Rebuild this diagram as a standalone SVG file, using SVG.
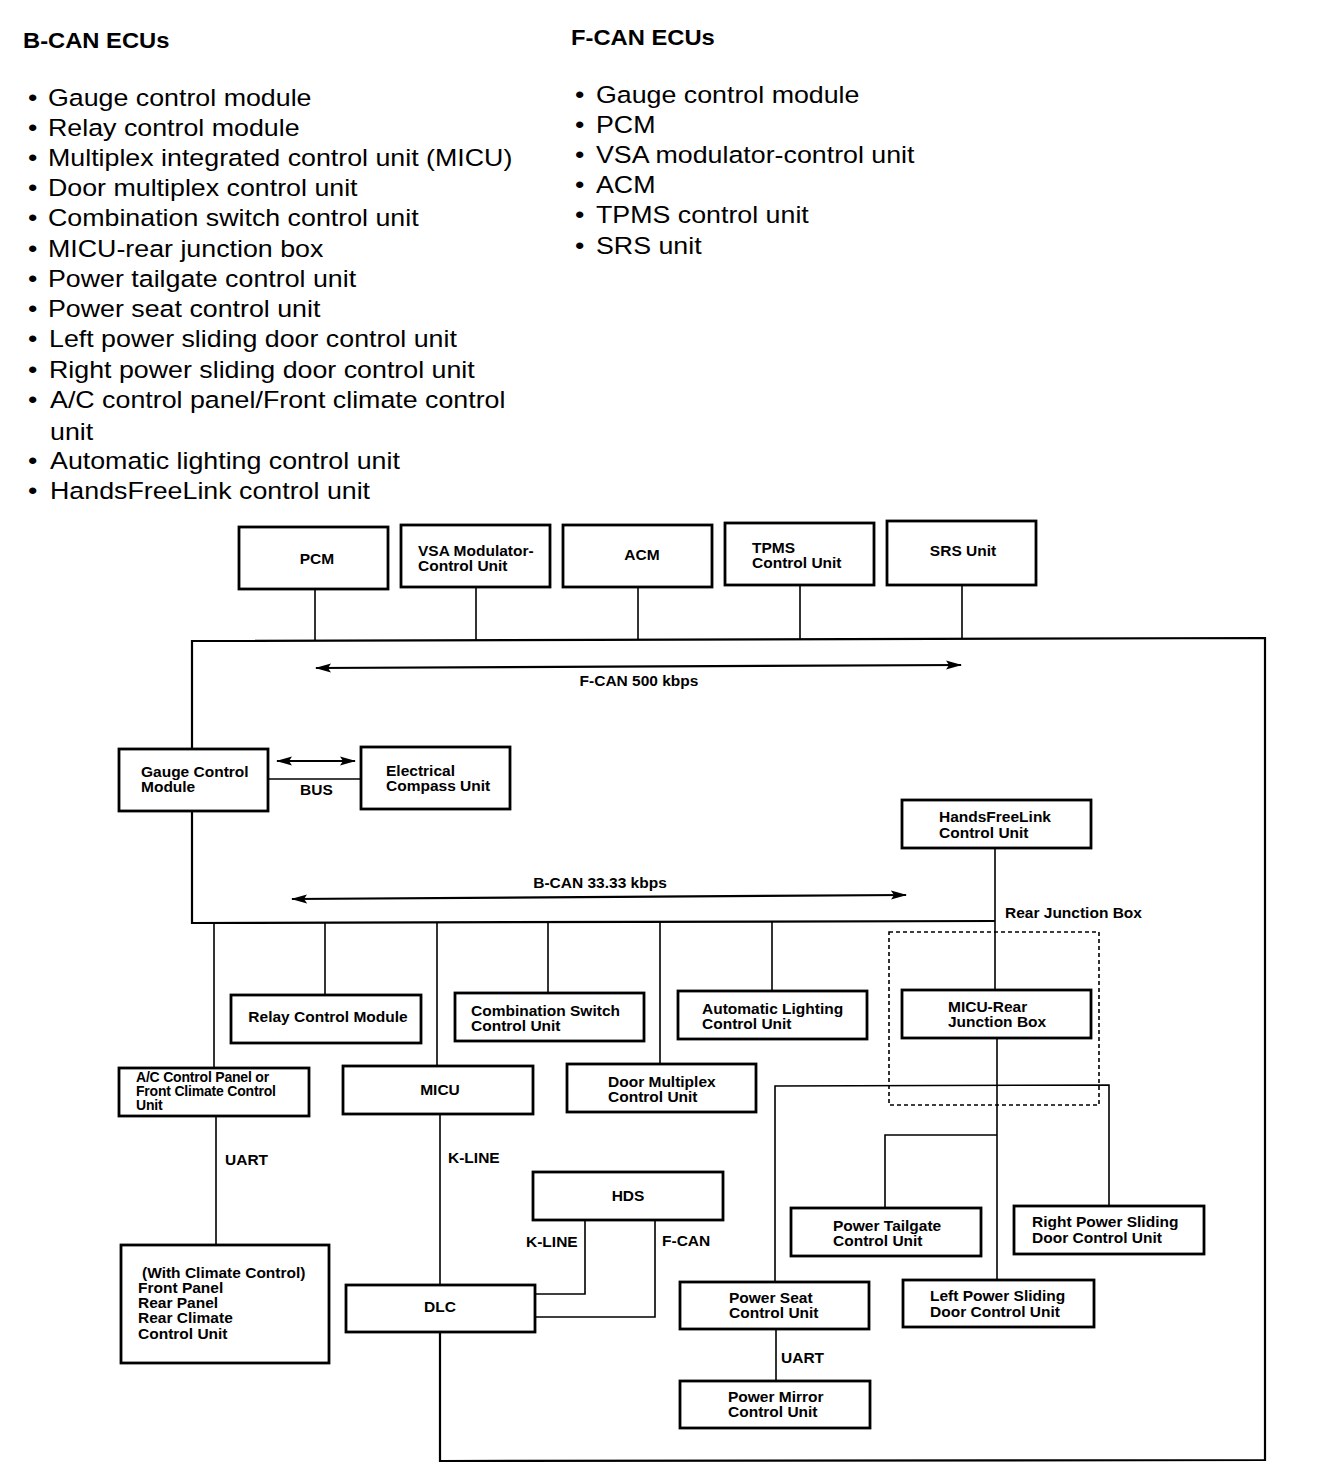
<svg xmlns="http://www.w3.org/2000/svg" width="1344" height="1482" viewBox="0 0 1344 1482">
<style>
.list{font-family:"Liberation Sans",Arial,sans-serif;font-size:23.5px;fill:#000}
.head{font-family:"Liberation Sans",Arial,sans-serif;font-size:22px;font-weight:bold;fill:#000}
.lbl{font-family:"Liberation Sans",Arial,sans-serif;font-size:15.5px;font-weight:bold;fill:#000}
.sm{font-family:"Liberation Sans",Arial,sans-serif;font-size:14px;font-weight:bold;fill:#000;letter-spacing:-0.2px}
.mid{text-anchor:middle}
.box{fill:#fff;stroke:#000;stroke-width:2.8}
.ln{fill:none;stroke:#000;stroke-width:1.6}
.bus{fill:none;stroke:#000;stroke-width:2.2}
.dash{fill:none;stroke:#000;stroke-width:1.6;stroke-dasharray:4 3}
</style>
<defs>
<marker id="ah" viewBox="0 0 16 10" refX="15" refY="5" markerWidth="16" markerHeight="10" markerUnits="userSpaceOnUse" orient="auto-start-reverse">
<path d="M0,0.5 L16,5 L0,9.5 L3,5 Z" fill="#000"/>
</marker>
</defs>
<rect width="1344" height="1482" fill="#fff"/>

<g id="bcan-list">
<text class="head" x="21.3" y="48" transform="scale(1.08,1)">B-CAN ECUs</text>
<g class="list" transform="scale(1.14,1)">
<text x="24.6" y="106">•</text><text x="42.1" y="106">Gauge control module</text>
<text x="24.6" y="136">•</text><text x="42.1" y="136">Relay control module</text>
<text x="24.6" y="166">•</text><text x="42.1" y="166">Multiplex integrated control unit (MICU)</text>
<text x="24.6" y="196">•</text><text x="42.1" y="196">Door multiplex control unit</text>
<text x="24.6" y="226">•</text><text x="42.1" y="226">Combination switch control unit</text>
<text x="24.6" y="257">•</text><text x="42.1" y="257">MICU-rear junction box</text>
<text x="24.6" y="287">•</text><text x="42.1" y="287">Power tailgate control unit</text>
<text x="24.6" y="317">•</text><text x="42.1" y="317">Power seat control unit</text>
<text x="24.6" y="347">•</text><text x="43" y="347">Left power sliding door control unit</text>
<text x="24.6" y="378">•</text><text x="43" y="378">Right power sliding door control unit</text>
<text x="24.6" y="408">•</text><text x="43.9" y="408">A/C control panel/Front climate control</text>
<text x="43.9" y="440">unit</text>
<text x="24.6" y="469">•</text><text x="43.9" y="469">Automatic lighting control unit</text>
<text x="24.6" y="499">•</text><text x="43.9" y="499">HandsFreeLink control unit</text>
</g>
</g>

<g id="fcan-list">
<text class="head" x="528.7" y="45" transform="scale(1.08,1)">F-CAN ECUs</text>
<g class="list" transform="scale(1.14,1)">
<text x="504.4" y="103">•</text><text x="522.8" y="103">Gauge control module</text>
<text x="504.4" y="133">•</text><text x="522.8" y="133">PCM</text>
<text x="504.4" y="163">•</text><text x="522.8" y="163">VSA modulator-control unit</text>
<text x="504.4" y="193">•</text><text x="522.8" y="193">ACM</text>
<text x="504.4" y="223">•</text><text x="522.8" y="223">TPMS control unit</text>
<text x="504.4" y="254">•</text><text x="522.8" y="254">SRS unit</text>
</g>
</g>

<g id="connectors">
<polyline class="bus" points="192,749 192,641 1265,638 1265,1460 440,1461 440,1332"/>
<line class="ln" x1="315" y1="589" x2="315" y2="641"/>
<line class="ln" x1="476" y1="587" x2="476" y2="640"/>
<line class="ln" x1="638" y1="587" x2="638" y2="640"/>
<line class="ln" x1="800" y1="585" x2="800" y2="639"/>
<line class="ln" x1="962" y1="585" x2="962" y2="639"/>
<line class="bus" x1="316" y1="668" x2="961" y2="665" marker-start="url(#ah)" marker-end="url(#ah)"/>
<line class="bus" x1="277" y1="761" x2="355" y2="761" marker-start="url(#ah)" marker-end="url(#ah)"/>
<line class="ln" x1="268" y1="779" x2="361" y2="779"/>
<polyline class="bus" points="192,811 192,923 995,921"/>
<line class="bus" x1="292" y1="899" x2="906" y2="895" marker-start="url(#ah)" marker-end="url(#ah)"/>
<line class="ln" x1="995" y1="848" x2="995" y2="990"/>
<line class="ln" x1="214" y1="923" x2="214" y2="1068"/>
<line class="ln" x1="325" y1="923" x2="325" y2="995"/>
<line class="ln" x1="437" y1="923" x2="437" y2="1066"/>
<line class="ln" x1="548" y1="922" x2="548" y2="993"/>
<line class="ln" x1="660" y1="922" x2="660" y2="1064"/>
<line class="ln" x1="772" y1="922" x2="772" y2="991"/>
<line class="ln" x1="216" y1="1116" x2="216" y2="1245"/>
<line class="ln" x1="440" y1="1114" x2="440" y2="1285"/>
<polyline class="ln" points="585,1220 585,1294 535,1294"/>
<polyline class="ln" points="655,1220 655,1317 535,1317"/>
<line class="ln" x1="997" y1="1038" x2="997" y2="1280"/>
<polyline class="ln" points="775,1282 775,1086 1109,1085 1109,1206"/>
<polyline class="ln" points="885,1208 885,1135 997,1135"/>
<line class="ln" x1="776" y1="1329" x2="776" y2="1381"/>
<rect class="dash" x="889" y="932" width="210" height="173"/>
</g>

<g id="labels">
<text class="lbl mid" x="639" y="686">F-CAN 500 kbps</text>
<text class="lbl" x="300" y="795">BUS</text>
<text class="lbl mid" x="600" y="888">B-CAN 33.33 kbps</text>
<text class="lbl" x="1005" y="918">Rear Junction Box</text>
<text class="lbl" x="225" y="1165">UART</text>
<text class="lbl" x="448" y="1163">K-LINE</text>
<text class="lbl" x="526" y="1247">K-LINE</text>
<text class="lbl" x="662" y="1246">F-CAN</text>
<text class="lbl" x="781" y="1363">UART</text>
</g>

<g id="pcm"><rect class="box" x="239" y="527" width="149" height="62"/><text class="lbl mid" x="317" y="564">PCM</text></g>
<g id="vsa"><rect class="box" x="401" y="525" width="149" height="62"/><text class="lbl" x="418" y="556">VSA Modulator-</text><text class="lbl" x="418" y="571">Control Unit</text></g>
<g id="acm"><rect class="box" x="563" y="525" width="149" height="62"/><text class="lbl mid" x="642" y="560">ACM</text></g>
<g id="tpms"><rect class="box" x="725" y="523" width="149" height="62"/><text class="lbl" x="752" y="553">TPMS</text><text class="lbl" x="752" y="568">Control Unit</text></g>
<g id="srs"><rect class="box" x="887" y="521" width="149" height="64"/><text class="lbl mid" x="963" y="556">SRS Unit</text></g>

<g id="gauge"><rect class="box" x="119" y="749" width="149" height="62"/><text class="lbl" x="141" y="777">Gauge Control</text><text class="lbl" x="141" y="792">Module</text></g>
<g id="compass"><rect class="box" x="361" y="747" width="149" height="62"/><text class="lbl" x="386" y="776">Electrical</text><text class="lbl" x="386" y="791">Compass Unit</text></g>
<g id="hfl"><rect class="box" x="902" y="800" width="189" height="48"/><text class="lbl" x="939" y="822">HandsFreeLink</text><text class="lbl" x="939" y="838">Control Unit</text></g>
<g id="micu-rear"><rect class="box" x="902" y="990" width="189" height="48"/><text class="lbl" x="948" y="1012">MICU-Rear</text><text class="lbl" x="948" y="1027">Junction Box</text></g>

<g id="relay"><rect class="box" x="231" y="995" width="190" height="48"/><text class="lbl mid" x="328" y="1022">Relay Control Module</text></g>
<g id="combo"><rect class="box" x="455" y="993" width="189" height="48"/><text class="lbl" x="471" y="1016">Combination Switch</text><text class="lbl" x="471" y="1031">Control Unit</text></g>
<g id="autolight"><rect class="box" x="678" y="991" width="189" height="48"/><text class="lbl" x="702" y="1014">Automatic Lighting</text><text class="lbl" x="702" y="1029">Control Unit</text></g>
<g id="ac"><rect class="box" x="119" y="1068" width="190" height="48"/><text class="sm" x="136" y="1082">A/C Control Panel or</text><text class="sm" x="136" y="1096">Front Climate Control</text><text class="sm" x="136" y="1110">Unit</text></g>
<g id="micu"><rect class="box" x="343" y="1066" width="190" height="48"/><text class="lbl mid" x="440" y="1095">MICU</text></g>
<g id="doormux"><rect class="box" x="567" y="1064" width="189" height="48"/><text class="lbl" x="608" y="1087">Door Multiplex</text><text class="lbl" x="608" y="1102">Control Unit</text></g>

<g id="climate"><rect class="box" x="121" y="1245" width="208" height="118"/>
<text class="lbl" x="142" y="1278">(With Climate Control)</text>
<text class="lbl" x="138" y="1293">Front Panel</text>
<text class="lbl" x="138" y="1308">Rear Panel</text>
<text class="lbl" x="138" y="1323">Rear Climate</text>
<text class="lbl" x="138" y="1339">Control Unit</text></g>
<g id="hds"><rect class="box" x="533" y="1172" width="190" height="48"/><text class="lbl mid" x="628" y="1201">HDS</text></g>
<g id="dlc"><rect class="box" x="346" y="1285" width="189" height="47"/><text class="lbl mid" x="440" y="1312">DLC</text></g>

<g id="tailgate"><rect class="box" x="791" y="1208" width="190" height="48"/><text class="lbl" x="833" y="1231">Power Tailgate</text><text class="lbl" x="833" y="1246">Control Unit</text></g>
<g id="rpsd"><rect class="box" x="1014" y="1206" width="190" height="48"/><text class="lbl" x="1032" y="1227">Right Power Sliding</text><text class="lbl" x="1032" y="1243">Door Control Unit</text></g>
<g id="seat"><rect class="box" x="680" y="1282" width="189" height="47"/><text class="lbl" x="729" y="1303">Power Seat</text><text class="lbl" x="729" y="1318">Control Unit</text></g>
<g id="lpsd"><rect class="box" x="903" y="1280" width="191" height="47"/><text class="lbl" x="930" y="1301">Left Power Sliding</text><text class="lbl" x="930" y="1317">Door Control Unit</text></g>
<g id="mirror"><rect class="box" x="680" y="1381" width="190" height="47"/><text class="lbl" x="728" y="1402">Power Mirror</text><text class="lbl" x="728" y="1417">Control Unit</text></g>
</svg>
